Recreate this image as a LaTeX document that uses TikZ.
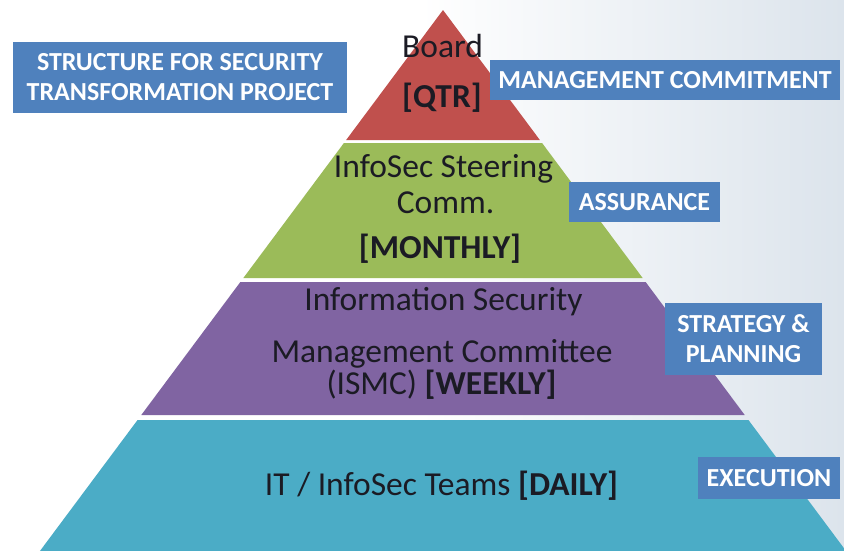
\documentclass[tikz,border=0pt]{standalone}
\usepackage{fontspec}
\setmainfont{Carlito}
\definecolor{bandred}{HTML}{C0504D}
\definecolor{bandgreen}{HTML}{9BBB59}
\definecolor{bandpurple}{HTML}{8064A2}
\definecolor{bandcyan}{HTML}{4BACC6}
\definecolor{tagblue}{HTML}{4F81BD}
\definecolor{inktext}{HTML}{1B1B24}
\definecolor{bgpale}{HTML}{DCE4EC}
\begin{document}
\begin{tikzpicture}[x=1pt,y=-1pt,
  tag/.style={fill=tagblue,text=white,font=\bfseries\fontsize{26}{30}\selectfont,align=center,inner sep=0pt},
  bandtext/.style={text=inktext,font=\fontsize{33.5}{36}\selectfont,inner sep=0pt,anchor=base},
  bandbold/.style={bandtext,font=\bfseries\fontsize{33.5}{36}\selectfont}]
\useasboundingbox (0,0) rectangle (844,550);
\fill[white] (0,0) rectangle (844,550);
\shade[left color=white,right color=bgpale] (420,0) rectangle (844,550);
% bands: x = 443 -/+ 0.745*(y-10)
\def\bandpath#1#2{({443-0.745*(#1-10)},#1) -- ({443+0.745*(#1-10)},#1) -- ({443+0.745*(#2-10)},#2) -- ({443-0.745*(#2-10)},#2) -- cycle}
\fill[bandred] \bandpath{10}{140};
\fill[bandgreen] \bandpath{143}{278};
\fill[bandpurple] \bandpath{282}{415};
\fill[bandcyan] \bandpath{420}{552};
% band texts
\node[bandtext] (board) at (442.5,57) {Board};
\node[bandbold] (qtr) at (442,107) {[QTR]};
\node[bandtext] (steer) at (443.5,177) {InfoSec Steering};
\node[bandtext] (comm) at (445.5,213) {Comm.};
\node[bandbold] (monthly) at (440,258) {[MONTHLY]};
\node[bandtext] (infosec) at (443.5,310) {Information Security};
\node[bandtext] (mgmt) at (442,362) {Management Committee};
\node[bandtext] (ismc) at (441.5,394) {(ISMC) \textbf{[WEEKLY]}};
\node[bandtext] (teams) at (441.5,495) {IT / InfoSec Teams \textbf{[DAILY]}};
% tags
\node[tag,minimum width=334pt,minimum height=71pt] (title) at (180,77.5) {STRUCTURE FOR SECURITY\\TRANSFORMATION PROJECT};
\node[tag,minimum width=350pt,minimum height=40pt] (mc) at (665,80) {MANAGEMENT COMMITMENT};
\node[tag,minimum width=151pt,minimum height=40pt] (assur) at (644.5,202) {ASSURANCE};
\node[tag,minimum width=157pt,minimum height=72pt] (strat) at (743.5,339) {STRATEGY \&\\PLANNING};
\node[tag,minimum width=142pt,minimum height=42pt] (exec) at (769,478) {EXECUTION};
\end{tikzpicture}
\end{document}
